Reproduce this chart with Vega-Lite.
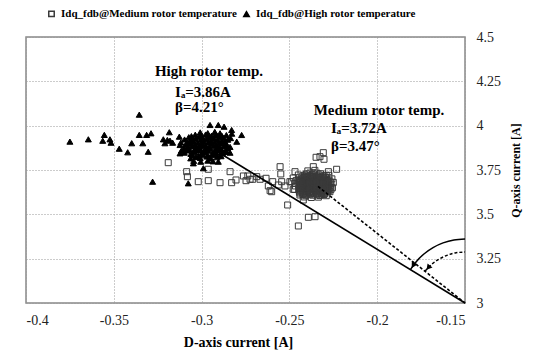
{
  "$schema": "https://vega.github.io/schema/vega-lite/v6.json",
  "width": 439,
  "height": 266,
  "autosize": {"type": "none"},
  "padding": {"left": 26, "top": 37, "right": 73, "bottom": 51},
  "background": "white",
  "config": {
    "view": {"stroke": "#888", "strokeWidth": 1.5},
    "axis": {
      "labelFont": "Liberation Serif, serif", "labelFontSize": 14, "labelColor": "#222",
      "titleFont": "Liberation Serif, serif", "titleFontWeight": "bold", "titleColor": "black",
      "domain": false, "ticks": false,
      "gridColor": "#999", "gridDash": [1, 2], "gridWidth": 1
    },
    "legend": {"labelFont": "Liberation Serif, serif"}
  },
  "datasets": {
    "pts": [
      {"s":"M","x":-0.3190,"y":3.7913},{"s":"M","x":-0.3085,"y":3.7405},{"s":"M","x":-0.3081,"y":3.7123},{"s":"M","x":-0.3019,"y":3.6841},
      {"s":"M","x":-0.2962,"y":3.6898},{"s":"M","x":-0.2895,"y":3.6785},{"s":"M","x":-0.2838,"y":3.7405},{"s":"M","x":-0.2829,"y":3.6785},
      {"s":"M","x":-0.2804,"y":3.6937},{"s":"M","x":-0.2762,"y":3.7163},{"s":"M","x":-0.2747,"y":3.6898},{"s":"M","x":-0.2737,"y":3.7163},
      {"s":"M","x":-0.2709,"y":3.6977},{"s":"M","x":-0.2667,"y":3.6977},{"s":"M","x":-0.2633,"y":3.7033},{"s":"M","x":-0.2620,"y":3.6599},
      {"s":"M","x":-0.2610,"y":3.6334},{"s":"M","x":-0.2595,"y":3.6841},{"s":"M","x":-0.2563,"y":3.6655},{"s":"M","x":-0.2553,"y":3.7687},
      {"s":"M","x":-0.2549,"y":3.7276},{"s":"M","x":-0.2525,"y":3.6599},{"s":"M","x":-0.2510,"y":3.5527},{"s":"M","x":-0.2487,"y":3.6841},
      {"s":"M","x":-0.2478,"y":3.6413},{"s":"M","x":-0.2468,"y":3.7405},{"s":"M","x":-0.2449,"y":3.7219},{"s":"M","x":-0.2440,"y":3.6091},
      {"s":"M","x":-0.2421,"y":3.5809},{"s":"M","x":-0.2392,"y":3.4833},{"s":"M","x":-0.2449,"y":3.4343},{"s":"M","x":-0.2354,"y":3.4867},
      {"s":"M","x":-0.2348,"y":3.8217},{"s":"M","x":-0.2326,"y":3.8251},{"s":"M","x":-0.2307,"y":3.8477},{"s":"M","x":-0.2303,"y":3.8105},
      {"s":"M","x":-0.2231,"y":3.7541},{"s":"M","x":-0.2278,"y":3.7405},{"s":"M","x":-0.2269,"y":3.6277},{"s":"M","x":-0.2316,"y":3.6148},
      {"s":"M","x":-0.2364,"y":3.7687},{"s":"M","x":-0.2686,"y":3.7123},{"s":"M","x":-0.2601,"y":3.6277},{"s":"M","x":-0.2497,"y":3.6841},
      {"s":"M","x":-0.2724,"y":3.6977},{"s":"M","x":-0.2544,"y":3.6841},{"s":"M","x":-0.2962,"y":3.7541},
      {"s":"M","x":-0.2423,"y":3.612},{"s":"M","x":-0.2407,"y":3.607},{"s":"M","x":-0.2383,"y":3.613},{"s":"M","x":-0.2367,"y":3.608},{"s":"M","x":-0.2343,"y":3.611},{"s":"M","x":-0.2327,"y":3.606},{"s":"M","x":-0.2303,"y":3.612},
      {"s":"M","x":-0.2443,"y":3.627},{"s":"M","x":-0.2427,"y":3.622},{"s":"M","x":-0.2403,"y":3.628},{"s":"M","x":-0.2387,"y":3.623},{"s":"M","x":-0.2363,"y":3.626},{"s":"M","x":-0.2347,"y":3.621},{"s":"M","x":-0.2323,"y":3.627},{"s":"M","x":-0.2307,"y":3.622},{"s":"M","x":-0.2283,"y":3.626},
      {"s":"M","x":-0.2447,"y":3.638},{"s":"M","x":-0.2423,"y":3.643},{"s":"M","x":-0.2407,"y":3.637},{"s":"M","x":-0.2383,"y":3.642},{"s":"M","x":-0.2367,"y":3.639},{"s":"M","x":-0.2343,"y":3.644},{"s":"M","x":-0.2327,"y":3.638},{"s":"M","x":-0.2303,"y":3.643},{"s":"M","x":-0.2287,"y":3.637},{"s":"M","x":-0.2263,"y":3.641},
      {"s":"M","x":-0.2443,"y":3.657},{"s":"M","x":-0.2427,"y":3.652},{"s":"M","x":-0.2403,"y":3.658},{"s":"M","x":-0.2387,"y":3.653},{"s":"M","x":-0.2363,"y":3.656},{"s":"M","x":-0.2347,"y":3.651},{"s":"M","x":-0.2323,"y":3.657},{"s":"M","x":-0.2307,"y":3.652},{"s":"M","x":-0.2283,"y":3.658},{"s":"M","x":-0.2267,"y":3.653},
      {"s":"M","x":-0.2447,"y":3.668},{"s":"M","x":-0.2423,"y":3.673},{"s":"M","x":-0.2407,"y":3.667},{"s":"M","x":-0.2383,"y":3.672},{"s":"M","x":-0.2367,"y":3.669},{"s":"M","x":-0.2343,"y":3.674},{"s":"M","x":-0.2327,"y":3.668},{"s":"M","x":-0.2303,"y":3.673},{"s":"M","x":-0.2287,"y":3.667},{"s":"M","x":-0.2263,"y":3.671},
      {"s":"M","x":-0.2443,"y":3.687},{"s":"M","x":-0.2427,"y":3.682},{"s":"M","x":-0.2403,"y":3.688},{"s":"M","x":-0.2387,"y":3.683},{"s":"M","x":-0.2363,"y":3.686},{"s":"M","x":-0.2347,"y":3.681},{"s":"M","x":-0.2323,"y":3.687},{"s":"M","x":-0.2307,"y":3.682},{"s":"M","x":-0.2283,"y":3.688},{"s":"M","x":-0.2267,"y":3.683},
      {"s":"M","x":-0.2447,"y":3.698},{"s":"M","x":-0.2423,"y":3.703},{"s":"M","x":-0.2407,"y":3.697},{"s":"M","x":-0.2383,"y":3.702},{"s":"M","x":-0.2367,"y":3.699},{"s":"M","x":-0.2343,"y":3.704},{"s":"M","x":-0.2327,"y":3.698},{"s":"M","x":-0.2303,"y":3.703},{"s":"M","x":-0.2287,"y":3.697},
      {"s":"M","x":-0.2423,"y":3.717},{"s":"M","x":-0.2407,"y":3.712},{"s":"M","x":-0.2383,"y":3.718},{"s":"M","x":-0.2367,"y":3.713},{"s":"M","x":-0.2343,"y":3.716},{"s":"M","x":-0.2327,"y":3.711},{"s":"M","x":-0.2303,"y":3.717},
      {"s":"M","x":-0.2403,"y":3.728},{"s":"M","x":-0.2383,"y":3.733},{"s":"M","x":-0.2363,"y":3.727},{"s":"M","x":-0.2343,"y":3.732},{"s":"M","x":-0.2323,"y":3.729},
      {"s":"M","x":-0.2435,"y":3.633},{"s":"M","x":-0.2415,"y":3.631},{"s":"M","x":-0.2395,"y":3.634},{"s":"M","x":-0.2375,"y":3.630},{"s":"M","x":-0.2355,"y":3.633},{"s":"M","x":-0.2335,"y":3.631},{"s":"M","x":-0.2315,"y":3.634},{"s":"M","x":-0.2295,"y":3.630},{"s":"M","x":-0.2275,"y":3.633},
      {"s":"M","x":-0.2435,"y":3.646},{"s":"M","x":-0.2415,"y":3.649},{"s":"M","x":-0.2395,"y":3.646},{"s":"M","x":-0.2375,"y":3.648},{"s":"M","x":-0.2355,"y":3.645},{"s":"M","x":-0.2335,"y":3.649},{"s":"M","x":-0.2315,"y":3.646},{"s":"M","x":-0.2295,"y":3.648},{"s":"M","x":-0.2275,"y":3.645},
      {"s":"M","x":-0.2435,"y":3.663},{"s":"M","x":-0.2415,"y":3.661},{"s":"M","x":-0.2395,"y":3.664},{"s":"M","x":-0.2375,"y":3.660},{"s":"M","x":-0.2355,"y":3.663},{"s":"M","x":-0.2335,"y":3.661},{"s":"M","x":-0.2315,"y":3.664},{"s":"M","x":-0.2295,"y":3.660},{"s":"M","x":-0.2275,"y":3.663},
      {"s":"M","x":-0.2435,"y":3.676},{"s":"M","x":-0.2415,"y":3.679},{"s":"M","x":-0.2395,"y":3.676},{"s":"M","x":-0.2375,"y":3.678},{"s":"M","x":-0.2355,"y":3.675},{"s":"M","x":-0.2335,"y":3.679},{"s":"M","x":-0.2315,"y":3.676},{"s":"M","x":-0.2295,"y":3.678},{"s":"M","x":-0.2275,"y":3.675},
      {"s":"M","x":-0.2435,"y":3.693},{"s":"M","x":-0.2415,"y":3.691},{"s":"M","x":-0.2395,"y":3.694},{"s":"M","x":-0.2375,"y":3.690},{"s":"M","x":-0.2355,"y":3.693},{"s":"M","x":-0.2335,"y":3.691},{"s":"M","x":-0.2315,"y":3.694},{"s":"M","x":-0.2295,"y":3.690},{"s":"M","x":-0.2275,"y":3.693},
      {"s":"M","x":-0.2415,"y":3.708},{"s":"M","x":-0.2395,"y":3.706},{"s":"M","x":-0.2375,"y":3.709},{"s":"M","x":-0.2355,"y":3.707},{"s":"M","x":-0.2335,"y":3.708},{"s":"M","x":-0.2315,"y":3.706},{"s":"M","x":-0.2295,"y":3.709},
      {"s":"M","x":-0.2440,"y":3.620},{"s":"M","x":-0.2420,"y":3.618},{"s":"M","x":-0.2400,"y":3.621},{"s":"M","x":-0.2380,"y":3.617},{"s":"M","x":-0.2360,"y":3.620},{"s":"M","x":-0.2340,"y":3.618},{"s":"M","x":-0.2320,"y":3.621},{"s":"M","x":-0.2300,"y":3.617},
      {"s":"M","x":-0.2440,"y":3.650},{"s":"M","x":-0.2420,"y":3.648},{"s":"M","x":-0.2400,"y":3.651},{"s":"M","x":-0.2380,"y":3.647},{"s":"M","x":-0.2360,"y":3.650},{"s":"M","x":-0.2340,"y":3.648},{"s":"M","x":-0.2320,"y":3.651},{"s":"M","x":-0.2300,"y":3.647},{"s":"M","x":-0.2280,"y":3.650},
      {"s":"M","x":-0.2440,"y":3.680},{"s":"M","x":-0.2420,"y":3.678},{"s":"M","x":-0.2400,"y":3.681},{"s":"M","x":-0.2380,"y":3.677},{"s":"M","x":-0.2360,"y":3.680},{"s":"M","x":-0.2340,"y":3.678},{"s":"M","x":-0.2320,"y":3.681},{"s":"M","x":-0.2300,"y":3.677},{"s":"M","x":-0.2280,"y":3.680},
      {"s":"M","x":-0.2430,"y":3.710},{"s":"M","x":-0.2410,"y":3.722},{"s":"M","x":-0.2390,"y":3.711},{"s":"M","x":-0.2370,"y":3.723},{"s":"M","x":-0.2350,"y":3.710},{"s":"M","x":-0.2330,"y":3.722},{"s":"M","x":-0.2310,"y":3.711},{"s":"M","x":-0.2290,"y":3.720},
      {"s":"M","x":-0.2465,"y":3.66},{"s":"M","x":-0.2462,"y":3.69},{"s":"M","x":-0.2470,"y":3.675},{"s":"M","x":-0.2255,"y":3.65},{"s":"M","x":-0.2250,"y":3.68},{"s":"M","x":-0.2258,"y":3.70},
      {"s":"M","x":-0.2395,"y":3.745},{"s":"M","x":-0.2355,"y":3.748},{"s":"M","x":-0.2415,"y":3.598},{"s":"M","x":-0.2375,"y":3.595},{"s":"M","x":-0.2335,"y":3.597},{"s":"M","x":-0.2470,"y":3.64},
      {"s":"M","x":-0.2478,"y":3.705},{"s":"M","x":-0.2275,"y":3.72},{"s":"M","x":-0.2290,"y":3.605},

      {"s":"H","x":-0.375,"y":3.91},{"s":"H","x":-0.3645,"y":3.923},{"s":"H","x":-0.3563,"y":3.915},{"s":"H","x":-0.3554,"y":3.948},
      {"s":"H","x":-0.3522,"y":3.923},{"s":"H","x":-0.3516,"y":3.904},{"s":"H","x":-0.3469,"y":3.870},{"s":"H","x":-0.3421,"y":3.850},
      {"s":"H","x":-0.3398,"y":3.901},{"s":"H","x":-0.3355,"y":4.062},{"s":"H","x":-0.3355,"y":3.948},{"s":"H","x":-0.3335,"y":3.901},
      {"s":"H","x":-0.3313,"y":3.948},{"s":"H","x":-0.3304,"y":3.853},{"s":"H","x":-0.3288,"y":3.957},{"s":"H","x":-0.3279,"y":3.684},
      {"s":"H","x":-0.3218,"y":3.923},{"s":"H","x":-0.3209,"y":3.901},{"s":"H","x":-0.3184,"y":3.963},{"s":"H","x":-0.3195,"y":3.919},
      {"s":"H","x":-0.3165,"y":3.904},{"s":"H","x":-0.3127,"y":3.938},{"s":"H","x":-0.3123,"y":3.844},{"s":"H","x":-0.3076,"y":3.675},
      {"s":"H","x":-0.299,"y":3.76},{"s":"H","x":-0.318,"y":3.9154},{"s":"H","x":-0.2952,"y":4.0039},{"s":"H","x":-0.2905,"y":4.0039},
      {"s":"H","x":-0.2872,"y":3.9943},{"s":"H","x":-0.2829,"y":3.9757},{"s":"H","x":-0.2772,"y":3.9475},{"s":"H","x":-0.2800,"y":3.9097},
      {"s":"H","x":-0.2838,"y":3.8477},{"s":"H","x":-0.2905,"y":3.7969},{"s":"H","x":-0.3047,"y":3.7879},{"s":"H","x":-0.3123,"y":3.8911},
      {"s":"H","x":-0.3062,"y":3.816},{"s":"H","x":-0.3031,"y":3.824},{"s":"H","x":-0.3008,"y":3.818},{"s":"H","x":-0.2971,"y":3.826},{"s":"H","x":-0.2948,"y":3.815},{"s":"H","x":-0.2912,"y":3.822},{"s":"H","x":-0.2889,"y":3.828},
      {"s":"H","x":-0.3098,"y":3.848},{"s":"H","x":-0.3061,"y":3.841},{"s":"H","x":-0.3038,"y":3.850},{"s":"H","x":-0.3001,"y":3.843},{"s":"H","x":-0.2979,"y":3.851},{"s":"H","x":-0.2941,"y":3.840},{"s":"H","x":-0.2918,"y":3.849},{"s":"H","x":-0.2881,"y":3.844},{"s":"H","x":-0.2858,"y":3.852},
      {"s":"H","x":-0.3101,"y":3.872},{"s":"H","x":-0.3068,"y":3.866},{"s":"H","x":-0.3032,"y":3.874},{"s":"H","x":-0.3007,"y":3.868},{"s":"H","x":-0.2972,"y":3.875},{"s":"H","x":-0.2948,"y":3.867},{"s":"H","x":-0.2913,"y":3.873},{"s":"H","x":-0.2887,"y":3.866},{"s":"H","x":-0.2852,"y":3.871},
      {"s":"H","x":-0.3092,"y":3.891},{"s":"H","x":-0.3063,"y":3.899},{"s":"H","x":-0.3037,"y":3.893},{"s":"H","x":-0.3002,"y":3.897},{"s":"H","x":-0.2978,"y":3.890},{"s":"H","x":-0.2942,"y":3.898},{"s":"H","x":-0.2917,"y":3.892},{"s":"H","x":-0.2883,"y":3.899},{"s":"H","x":-0.2857,"y":3.894},
      {"s":"H","x":-0.3097,"y":3.922},{"s":"H","x":-0.3067,"y":3.916},{"s":"H","x":-0.3033,"y":3.924},{"s":"H","x":-0.3006,"y":3.918},{"s":"H","x":-0.2973,"y":3.925},{"s":"H","x":-0.2947,"y":3.917},{"s":"H","x":-0.2911,"y":3.923},{"s":"H","x":-0.2886,"y":3.915},{"s":"H","x":-0.2851,"y":3.921},
      {"s":"H","x":-0.3058,"y":3.941},{"s":"H","x":-0.3036,"y":3.949},{"s":"H","x":-0.3003,"y":3.943},{"s":"H","x":-0.2977,"y":3.950},{"s":"H","x":-0.2943,"y":3.944},{"s":"H","x":-0.2916,"y":3.948},{"s":"H","x":-0.2884,"y":3.942},{"s":"H","x":-0.2859,"y":3.947},
      {"s":"H","x":-0.3052,"y":3.835},{"s":"H","x":-0.3018,"y":3.830},{"s":"H","x":-0.2993,"y":3.836},{"s":"H","x":-0.2962,"y":3.829},{"s":"H","x":-0.2927,"y":3.834},{"s":"H","x":-0.2898,"y":3.831},
      {"s":"H","x":-0.3083,"y":3.860},{"s":"H","x":-0.3047,"y":3.855},{"s":"H","x":-0.3022,"y":3.861},{"s":"H","x":-0.2988,"y":3.854},{"s":"H","x":-0.2963,"y":3.859},{"s":"H","x":-0.2928,"y":3.856},{"s":"H","x":-0.2903,"y":3.862},{"s":"H","x":-0.2868,"y":3.857},
      {"s":"H","x":-0.3077,"y":3.880},{"s":"H","x":-0.3053,"y":3.886},{"s":"H","x":-0.3017,"y":3.879},{"s":"H","x":-0.2992,"y":3.885},{"s":"H","x":-0.2958,"y":3.881},{"s":"H","x":-0.2933,"y":3.884},{"s":"H","x":-0.2897,"y":3.878},{"s":"H","x":-0.2872,"y":3.886},
      {"s":"H","x":-0.3082,"y":3.905},{"s":"H","x":-0.3048,"y":3.911},{"s":"H","x":-0.3023,"y":3.904},{"s":"H","x":-0.2987,"y":3.910},{"s":"H","x":-0.2962,"y":3.906},{"s":"H","x":-0.2927,"y":3.909},{"s":"H","x":-0.2902,"y":3.903},{"s":"H","x":-0.2867,"y":3.908},
      {"s":"H","x":-0.3073,"y":3.935},{"s":"H","x":-0.3051,"y":3.930},{"s":"H","x":-0.3016,"y":3.936},{"s":"H","x":-0.2993,"y":3.929},{"s":"H","x":-0.2957,"y":3.934},{"s":"H","x":-0.2932,"y":3.931},{"s":"H","x":-0.2896,"y":3.937},{"s":"H","x":-0.2873,"y":3.930},
      {"s":"H","x":-0.3045,"y":3.802},{"s":"H","x":-0.3005,"y":3.797},{"s":"H","x":-0.2965,"y":3.803},{"s":"H","x":-0.2935,"y":3.799},
      {"s":"H","x":-0.3008,"y":3.962},{"s":"H","x":-0.2965,"y":3.958},{"s":"H","x":-0.2925,"y":3.965},{"s":"H","x":-0.2895,"y":3.957},
      {"s":"H","x":-0.3118,"y":3.905},{"s":"H","x":-0.3115,"y":3.86},{"s":"H","x":-0.2835,"y":3.93},{"s":"H","x":-0.2838,"y":3.88},{"s":"H","x":-0.2828,"y":3.955}
    ],
    "lineS": [{"x": -0.15, "y": 3}, {"x": -0.2907, "y": 3.8517}],
    "lineD": [{"x": -0.15, "y": 3}, {"x": -0.2337, "y": 3.657}],
    "arcS": [
      {"x": -0.1811, "y": 3.1884}, {"x": -0.1779, "y": 3.2318}, {"x": -0.1734, "y": 3.2764},
      {"x": -0.1682, "y": 3.3125}, {"x": -0.1625, "y": 3.339}, {"x": -0.1563, "y": 3.3553}, {"x": -0.15, "y": 3.361}
    ],
    "arcD": [
      {"x": -0.1727, "y": 3.18}, {"x": -0.1687, "y": 3.2205}, {"x": -0.1645, "y": 3.2493},
      {"x": -0.1599, "y": 3.2702}, {"x": -0.1551, "y": 3.2831}, {"x": -0.15, "y": 3.2877}
    ],
    "headS": [{"x": -0.1795, "y": 3.2121}],
    "headD": [{"x": -0.1709, "y": 3.1997}],
    "titles": [
      {"x": -0.2958, "y": 4.3085, "t": "High rotor temp."},
      {"x": -0.199, "y": 4.0886, "t": "Medium rotor temp."}
    ],
    "notes": [
      {"x": -0.3151, "y": 4.19, "t": "Iₐ=3.86A"},
      {"x": -0.3151, "y": 4.1055, "t": "β=4.21°"},
      {"x": -0.2263, "y": 3.987, "t": "Iₐ=3.72A"},
      {"x": -0.2263, "y": 3.8855, "t": "β=3.47°"}
    ]
  },
  "encoding": {
    "x": {
      "field": "x", "type": "quantitative",
      "scale": {"domain": [-0.4, -0.15], "nice": false, "zero": false},
      "axis": {
        "values": [-0.4, -0.35, -0.3, -0.25, -0.2, -0.15],
        "labelExpr": "'' + datum.value",
        "labelFont": "Liberation Serif, serif", "labelFontSize": 14, "labelColor": "#222",
        "titleFont": "Liberation Serif, serif", "titleFontWeight": "bold",
        "labelPadding": 10, "title": "D-axis current [A]", "titleFontSize": 14,
        "titlePadding": 8, "titleX": 212
      }
    },
    "y": {
      "field": "y", "type": "quantitative",
      "scale": {"domain": [3, 4.5], "nice": false, "zero": false},
      "axis": {
        "orient": "right",
        "values": [3, 3.25, 3.5, 3.75, 4, 4.25, 4.5],
        "labelExpr": "'' + datum.value",
        "labelFont": "Liberation Serif, serif", "labelFontSize": 14, "labelColor": "#222",
        "titleFont": "Liberation Serif, serif", "titleFontWeight": "bold",
        "labelPadding": 11, "title": "Q-axis current [A]", "titleFontSize": 12,
        "titleAngle": 270, "titlePadding": 22
      }
    }
  },
  "layer": [
    {
      "data": {"name": "pts"},
      "mark": {"type": "point", "filled": true, "size": 36, "strokeWidth": 1, "opacity": 1},
      "encoding": {
        "shape": {
          "field": "s", "type": "nominal",
          "scale": {"domain": ["M", "H"], "range": ["square", "triangle-up"]},
          "legend": {
            "title": null, "orient": "none", "legendX": 20, "legendY": -29,
            "direction": "horizontal", "padding": 0,
            "labelFont": "Liberation Serif, serif", "labelFontWeight": "bold", "labelFontSize": 11,
            "labelColor": "black", "labelLimit": 400, "symbolSize": 30, "columnPadding": 2,
            "labelExpr": "datum.label == 'M' ? 'Idq_fdb@Medium rotor temperature' : 'Idq_fdb@High rotor temperature'"
          }
        },
        "fill": {
          "field": "s", "type": "nominal",
          "scale": {"domain": ["M", "H"], "range": ["transparent", "black"]}
        },
        "stroke": {
          "field": "s", "type": "nominal",
          "scale": {"domain": ["M", "H"], "range": ["#3a3a3a", "black"]}
        }
      }
    },
    {"data": {"name": "lineS"}, "mark": {"type": "line", "color": "black", "strokeWidth": 1.6}},
    {"data": {"name": "lineD"}, "mark": {"type": "line", "color": "black", "strokeWidth": 1.6, "strokeDash": [3, 2]}},
    {"data": {"name": "arcS"}, "mark": {"type": "line", "color": "black", "strokeWidth": 1.5, "interpolate": "natural"}},
    {"data": {"name": "arcD"}, "mark": {"type": "line", "color": "black", "strokeWidth": 1.5, "interpolate": "natural", "strokeDash": [3, 2]}},
    {"data": {"name": "headS"}, "mark": {"type": "point", "shape": "triangle-down", "filled": true, "color": "black", "size": 45, "angle": 31, "opacity": 1}},
    {"data": {"name": "headD"}, "mark": {"type": "point", "shape": "triangle-down", "filled": true, "color": "black", "size": 40, "angle": 39, "opacity": 1}},
    {
      "data": {"name": "titles"},
      "mark": {"type": "text", "font": "Liberation Serif", "fontWeight": "bold", "fontSize": 15, "align": "center", "baseline": "middle", "color": "black"},
      "encoding": {"text": {"field": "t"}}
    },
    {
      "data": {"name": "notes"},
      "mark": {"type": "text", "font": "Liberation Serif", "fontWeight": "bold", "fontSize": 15, "align": "left", "baseline": "middle", "color": "black"},
      "encoding": {"text": {"field": "t"}}
    }
  ]
}
